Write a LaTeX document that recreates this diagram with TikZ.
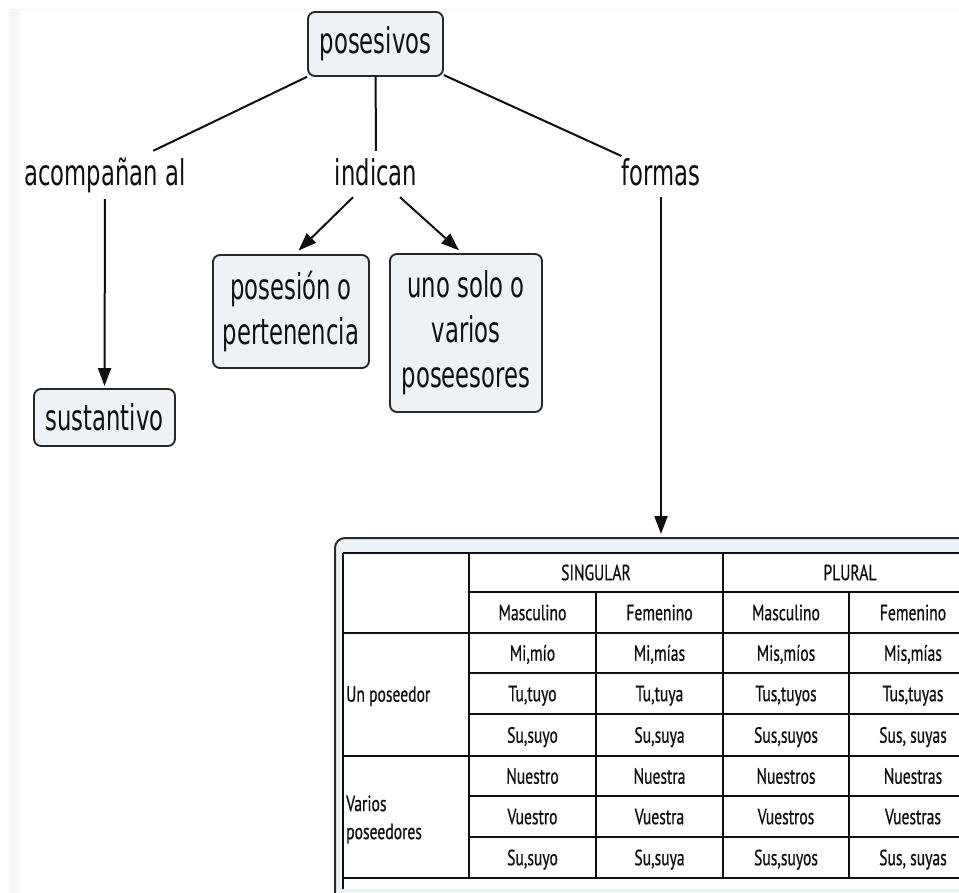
\documentclass[tikz,border=0pt]{standalone}
\usepackage{fontspec}
\usetikzlibrary{arrows.meta,calc}
\newfontfamily\mapfont[FakeStretch=0.64]{DejaVu Sans}
\newfontfamily\tabfont[FakeStretch=0.71,FakeBold=0.6]{PT Sans}
\definecolor{boxfill}{RGB}{236,242,245}
\definecolor{boxline}{RGB}{40,40,40}
\definecolor{inkc}{RGB}{15,15,15}
\definecolor{framefill}{RGB}{236,243,247}
\definecolor{pagegrey}{RGB}{246,246,246}
\begin{document}
\begin{tikzpicture}[x=1pt,y=-1pt,
  mapbox/.style={draw=boxline, line width=1.9pt, rounded corners=7pt, fill=boxfill, inner sep=0pt,
    font=\mapfont\fontsize{35.5pt}{45pt}\selectfont, text=inkc, align=center},
  linklabel/.style={inner sep=0pt, font=\mapfont\fontsize{35.5pt}{45pt}\selectfont, text=inkc,
    text height=35pt, text depth=11pt},
  link/.style={line width=2pt, draw=inkc},
  arrowlink/.style={link, -{Triangle[length=18pt,width=13pt]}},
  cell/.style={inner sep=0pt, font=\tabfont\fontsize{22pt}{28pt}\selectfont, text=inkc,
    text height=15.4pt, text depth=0pt},
  gridline/.style={line width=1.5pt, draw=inkc}
]
\useasboundingbox (0,0) rectangle (959,893);
\clip (0,0) rectangle (959,893);
\fill[white] (0,0) rectangle (959,893);
\fill[pagegrey] (9,9) rectangle (20,893);
\draw[pagegrey, line width=1pt] (9,9.5) -- (959,9.5);

% concept nodes
\node[mapbox, minimum width=135pt, minimum height=64pt] (posesivos) at (375.5,44) {posesivos};
\node[linklabel] (acomp) at (105,174) {acompañan al};
\node[linklabel] (indican) at (376,174) {indican};
\node[linklabel] (formas) at (661,174) {formas};
\node[mapbox, minimum width=141pt, minimum height=57pt] (sust) at (104.5,417.5) {sustantivo};
\node[mapbox, minimum width=156pt, minimum height=113pt] (posesion) at (291,311.5) {posesión o\\pertenencia};
\node[mapbox, minimum width=152pt, minimum height=158pt] (uno) at (466,333) {uno solo o\\varios\\poseesores};

% table frame
\node[draw=boxline, line width=2pt, rounded corners=10pt, fill=framefill, minimum width=660pt,
  minimum height=367pt, inner sep=0pt] (tabla) at (665,721.5) {};
\fill[white] (343,552) rectangle (990,889);
\draw[gridline] (343,553) -- (990,553);
\draw[gridline] (469,592) -- (990,592);
\draw[gridline] (343,633) -- (990,633);
\draw[gridline] (469,673) -- (990,673);
\draw[gridline] (469,714) -- (990,714);
\draw[gridline] (343,756) -- (990,756);
\draw[gridline] (469,796) -- (990,796);
\draw[gridline] (469,837) -- (990,837);
\draw[gridline] (343,878) -- (990,878);
\draw[gridline] (343,553) -- (343,889);
\draw[gridline] (469,553) -- (469,878);
\draw[gridline] (723,553) -- (723,878);
\draw[gridline] (596,592) -- (596,878);
\draw[gridline] (849,592) -- (849,878);

% table text
\node[cell] (hsing) at (596,572.5) {SINGULAR};
\node[cell] (hplur) at (850,572.5) {PLURAL};
\node[cell] (g1) at (532.5,612.5) {Masculino};
\node[cell] (g2) at (659.5,612.5) {Femenino};
\node[cell] (g3) at (786,612.5) {Masculino};
\node[cell] (g4) at (913,612.5) {Femenino};
\node[cell, anchor=west] (unpos) at (346,694) {Un poseedor};
\node[cell, anchor=west, align=left, text height=, text depth=] (varpos) at (346,819.5) {Varios\\poseedores};

\node[cell] (a1) at (532.5,653) {Mi,mío};
\node[cell] (a2) at (659.5,653) {Mi,mías};
\node[cell] (a3) at (786,653) {Mis,míos};
\node[cell] (a4) at (913,653) {Mis,mías};
\node[cell] (b1) at (532.5,693.5) {Tu,tuyo};
\node[cell] (b2) at (659.5,693.5) {Tu,tuya};
\node[cell] (b3) at (786,693.5) {Tus,tuyos};
\node[cell] (b4) at (913,693.5) {Tus,tuyas};
\node[cell] (c1) at (532.5,735) {Su,suyo};
\node[cell] (c2) at (659.5,735) {Su,suya};
\node[cell] (c3) at (786,735) {Sus,suyos};
\node[cell] (c4) at (913,735) {Sus, suyas};
\node[cell] (d1) at (532.5,776) {Nuestro};
\node[cell] (d2) at (659.5,776) {Nuestra};
\node[cell] (d3) at (786,776) {Nuestros};
\node[cell] (d4) at (913,776) {Nuestras};
\node[cell] (e1) at (532.5,816.5) {Vuestro};
\node[cell] (e2) at (659.5,816.5) {Vuestra};
\node[cell] (e3) at (786,816.5) {Vuestros};
\node[cell] (e4) at (913,816.5) {Vuestras};
\node[cell] (f1) at (532.5,857.5) {Su,suyo};
\node[cell] (f2) at (659.5,857.5) {Su,suya};
\node[cell] (f3) at (786,857.5) {Sus,suyos};
\node[cell] (f4) at (913,857.5) {Sus, suyas};

% connectors
\draw[link] (posesivos) -- (acomp);
\draw[link] (posesivos) -- (indican);
\draw[link] (posesivos) -- (formas);
\draw[arrowlink, shorten <=2pt, shorten >=2pt] (acomp.south) -- (sust.north);
\draw[arrowlink, shorten >=5pt] ($(indican.south)+(-23,0)$) -- ($(posesion.north)+(4,0)$);
\draw[arrowlink, shorten >=4pt] ($(indican.south)+(24,0)$) -- ($(uno.north)+(-4,0)$);
\draw[arrowlink, shorten >=3pt] (formas.south) -- (formas.south |- tabla.north);
\end{tikzpicture}
\end{document}
